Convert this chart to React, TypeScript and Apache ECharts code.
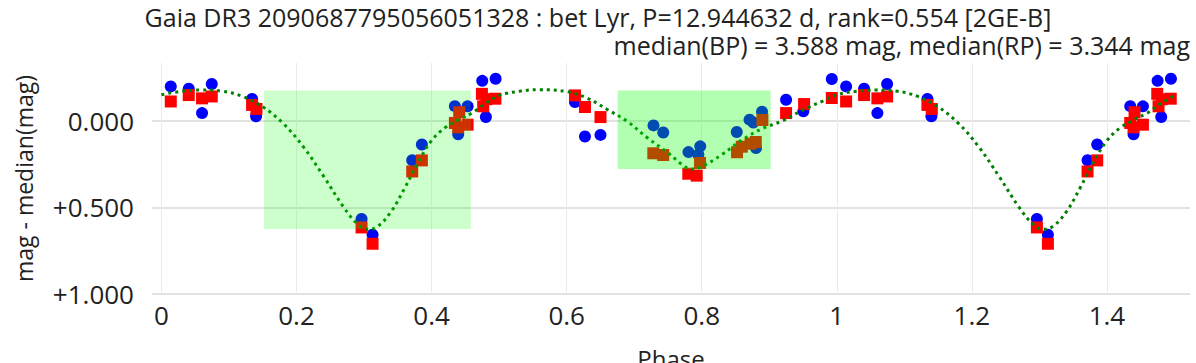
import React, { useEffect, useRef } from "react";
import * as echarts from "echarts";

const titleLine1 = "Gaia DR3 2090687795056051328 : bet Lyr, P=12.944632 d, rank=0.554 [2GE-B]";
const titleLine2 = "median(BP) = 3.588 mag, median(RP) = 3.344 mag";
const xName = "Phase";
const yName = "mag - median(mag)";

const xTicks = [0, 0.2, 0.4, 0.6, 0.8, 1, 1.2, 1.4];
const yTicks = [0, 0.5, 1];
const xRange = [-0.014, 1.523];
const yRange = [-0.333, 1.0];

// G_BP (blue circles), phase in [0,1)
const bpPhase = [0.0138, 0.0404, 0.0601, 0.0745, 0.1342, 0.1401, 0.2963, 0.3126, 0.3713, 0.3856,
  0.4345, 0.4533, 0.4394, 0.475, 0.4948, 0.4804, 0.6123, 0.6271, 0.6501, 0.7286, 0.743,
  0.7804, 0.795, 0.7978, 0.8519, 0.8708, 0.8764, 0.8893, 0.8804, 0.9249, 0.9505, 0.9926];
const bpMag = [-0.198, -0.185, -0.044, -0.212, -0.125, -0.025, 0.567, 0.658, 0.228, 0.137,
  -0.084, -0.083, 0.078, -0.23, -0.242, -0.021, -0.108, 0.091, 0.082, 0.027, 0.068,
  0.181, 0.196, 0.148, 0.065, -0.006, 0.01, -0.052, 0.158, -0.121, -0.054, -0.241];

// G_RP (red squares), phase in [0,1)
const rpPhase = [0.0138, 0.0404, 0.0601, 0.0745, 0.1342, 0.1407, 0.2963, 0.3126, 0.3713, 0.3856,
  0.4409, 0.4345, 0.4394, 0.4533, 0.4745, 0.4812, 0.4764, 0.4945, 0.6123, 0.6271, 0.6501,
  0.7283, 0.743, 0.7801, 0.7926, 0.7975, 0.8523, 0.8593, 0.8723, 0.88, 0.8898, 0.9249, 0.9516, 0.9926];
const rpMag = [-0.111, -0.148, -0.129, -0.14, -0.091, -0.068, 0.616, 0.71, 0.293, 0.229,
  -0.049, 0.013, 0.038, 0.023, -0.155, -0.124, -0.083, -0.127, -0.146, -0.079, -0.021,
  0.188, 0.198, 0.306, 0.317, 0.244, 0.182, 0.15, 0.133, 0.123, -0.004, -0.044, -0.096, -0.131];

// two-Gaussian model, phase in [0,1]
const modelPhase = [0, 0.03, 0.06, 0.09, 0.12, 0.15, 0.18, 0.21, 0.24, 0.27, 0.29, 0.305, 0.32, 0.34,
  0.36, 0.38, 0.4, 0.42, 0.44, 0.46, 0.48, 0.5, 0.53, 0.56, 0.6, 0.63, 0.66, 0.69, 0.72, 0.75,
  0.77, 0.785, 0.8, 0.83, 0.86, 0.89, 0.92, 0.95, 0.98, 1.0];
const modelMag = [-0.15, -0.17, -0.177, -0.17, -0.14, -0.08, 0.015, 0.15, 0.32, 0.5, 0.595, 0.627, 0.61, 0.525,
  0.39, 0.24, 0.115, 0.04, -0.005, -0.045, -0.1, -0.145, -0.17, -0.179, -0.168, -0.131, -0.065, 0.005, 0.1, 0.185,
  0.25, 0.28, 0.265, 0.195, 0.11, 0.045, 0.0, -0.063, -0.115, -0.15];

// eclipse windows
const eclipseStart = [0.152, 0.6756];
const eclipseEnd = [0.458, 0.902];
const eclipseTop = [-0.175, -0.175];
const eclipseBottom = [0.625, 0.279];
const eclipseAlpha = [0.2, 0.3];

const FONT = "Open Sans";

function fold(ph: number[], mg: number[], limit: number) {
  const out: number[][] = [];
  ph.forEach((p, i) => out.push([p, mg[i]]));
  ph.forEach((p, i) => { if (p + 1 <= limit) out.push([p + 1, mg[i]]); });
  return out;
}

export default function App() {
  const ref = useRef<HTMLDivElement>(null);
  useEffect(() => {
    document.body.style.margin = "0";
    const chart = echarts.init(ref.current!, null, { renderer: "svg" });
    const modelData: number[][] = modelPhase.map((p, i) => [p, modelMag[i]]);
    modelPhase.forEach((p, i) => { if (p > 0 && p + 1 <= 1.52) modelData.push([p + 1, modelMag[i]]); });
    const rects = eclipseStart.map((s, i) => [s, eclipseEnd[i], eclipseTop[i], eclipseBottom[i], eclipseAlpha[i]]);

    chart.setOption({
      animation: false,
      textStyle: { fontFamily: FONT },
      title: [
        { text: titleLine1, left: "center", top: 4, padding: 0, textStyle: { fontFamily: FONT, fontSize: 25, fontWeight: "normal", color: "#222" } },
        { text: titleLine2, right: 6, top: 32, padding: 0, textStyle: { fontFamily: FONT, fontSize: 25, fontWeight: "normal", color: "#222" } },
      ],
      grid: { left: 152, right: 6, top: 63, bottom: 69, containLabel: false, outerBoundsMode: "none" },
      xAxis: {
        type: "value",
        min: xRange[0],
        max: xRange[1],
        name: xName,
        nameLocation: "middle",
        nameGap: 52,
        nameTextStyle: { fontFamily: FONT, fontSize: 24, color: "#222" },
        axisLine: { show: false },
        axisTick: { show: false, customValues: xTicks },
        axisLabel: {
          customValues: xTicks,
          fontFamily: FONT, fontSize: 26, color: "#222", margin: 8,
          formatter: (v: number) => String(parseFloat(v.toFixed(2))),
        },
        splitLine: { show: true, lineStyle: { color: "#ebebeb", width: 1 } },
      },
      yAxis: {
        type: "value",
        inverse: true,
        min: yRange[0],
        max: yRange[1],
        name: yName,
        nameLocation: "middle",
        nameGap: 117,
        nameTextStyle: { fontFamily: FONT, fontSize: 23, color: "#222" },
        axisLine: { show: false },
        axisTick: { show: false, customValues: yTicks },
        axisLabel: {
          customValues: yTicks,
          fontFamily: FONT, fontSize: 26, color: "#222", margin: 18,
          formatter: (v: number) => (Math.abs(v) < 1e-9 ? "0.000" : (v > 0 ? "+" : "") + v.toFixed(3)),
        },
        splitLine: { show: true, lineStyle: { color: "#e2e2e2", width: 2 } },
      },
      series: [
        {
          name: "BP",
          type: "scatter",
          z: 2,
          symbol: "circle",
          symbolSize: 12,
          itemStyle: { color: "#0000ff", opacity: 1 },
          data: fold(bpPhase, bpMag, 1.52),
        },
        {
          name: "RP",
          type: "scatter",
          z: 3,
          symbol: "rect",
          symbolSize: 12,
          itemStyle: { color: "#ff0000", opacity: 1 },
          data: fold(rpPhase, rpMag, 1.52),
        },
        {
          name: "model",
          type: "line",
          z: 4,
          showSymbol: false,
          smooth: 0.4,
          lineStyle: { color: "#008000", width: 3, type: [3, 4] },
          data: modelData,
        },
        {
          name: "eclipses",
          type: "custom",
          z: 10,
          silent: true,
          data: rects,
          renderItem: (params: any, api: any) => {
            const p0 = api.coord([api.value(0), api.value(2)]);
            const p1 = api.coord([api.value(1), api.value(3)]);
            const a = api.value(4);
            return {
              type: "rect",
              shape: {
                x: Math.min(p0[0], p1[0]),
                y: Math.min(p0[1], p1[1]),
                width: Math.abs(p1[0] - p0[0]),
                height: Math.abs(p1[1] - p0[1]),
              },
              style: { fill: `rgba(0,255,0,${a})` },
            };
          },
        },
      ],
    });
    return () => chart.dispose();
  }, []);
  return <div ref={ref} style={{ width: 1196, height: 363 }} />;
}
